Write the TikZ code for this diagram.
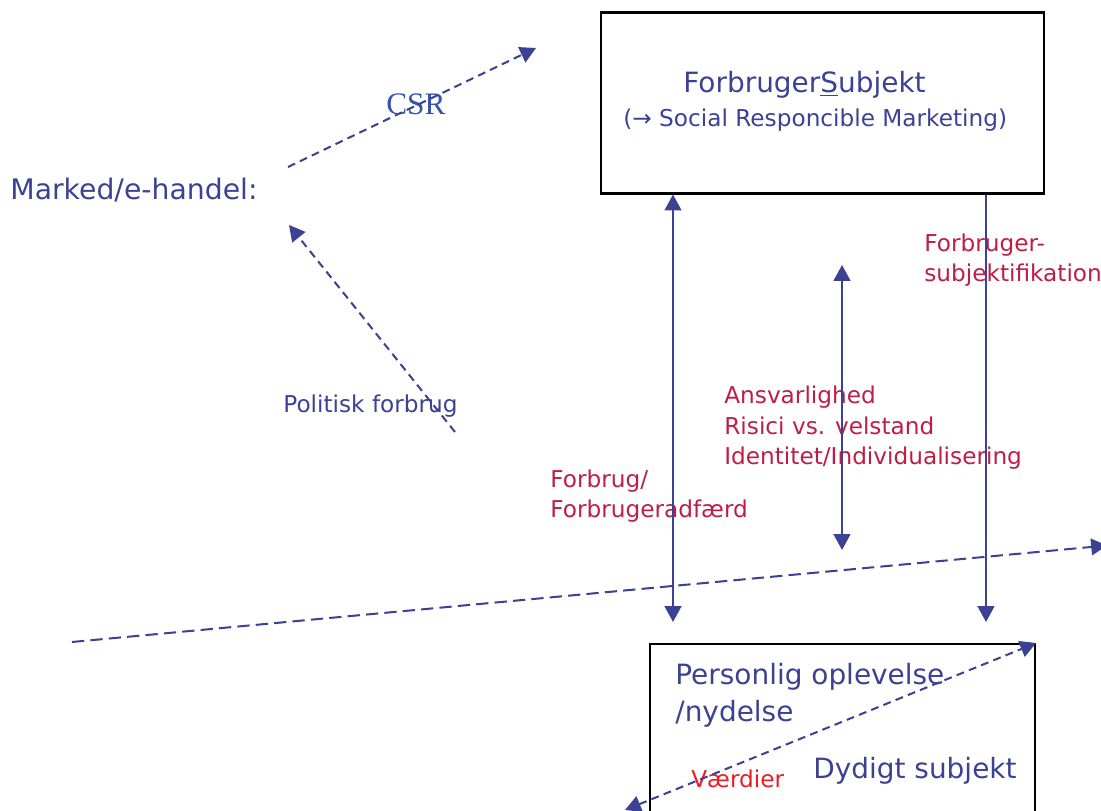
\documentclass[tikz,border=0pt]{standalone}
\usepackage{fontspec}
\setmainfont{DejaVu Sans}
\newfontfamily\csrfont{Liberation Serif}
\usetikzlibrary{arrows.meta}
\usetikzlibrary{positioning}
\definecolor{navy}{RGB}{59,66,148}
\definecolor{csrblue}{RGB}{52,82,168}
\definecolor{crimson}{RGB}{190,30,70}
\definecolor{redtxt}{RGB}{236,28,36}

\begin{document}
\begin{tikzpicture}[
    bigtext/.style={font=\fontsize{15.9}{21.6}\selectfont, text=navy, inner sep=0pt, align=left},
    smalltext/.style={font=\fontsize{13.2}{17.6}\selectfont, inner sep=0pt, align=left},
    lbl/.style={smalltext, text=crimson},
    boxframe/.style={draw=black, line width=1.2pt, rectangle, inner sep=0pt},
    solidarr/.style={navy, line width=1.15pt, -{Triangle[length=9pt,width=9.5pt]}},
    bothway/.style={solidarr, {Triangle[length=9pt,width=9.5pt]}-{Triangle[length=9pt,width=9.5pt]}},
    dasharr/.style={solidarr, dash pattern=on 4.5pt off 3pt},
    dashboth/.style={bothway, dash pattern=on 4.5pt off 3pt},
    longdash/.style={solidarr, dash pattern=on 7pt off 3.5pt}
]
\useasboundingbox (0,0) rectangle (22.02,16.22);
\clip (0,0) rectangle (22.02,16.22);

% Boxes
\node[boxframe, minimum width=8.86cm, minimum height=3.62cm] (subjekt) at (16.45,14.16) {};
\node[boxframe, minimum width=7.7cm, minimum height=4.4cm, anchor=north west] (oplevelse) at (12.98,3.36) {};

% Texts in the boxes
\node[bigtext, anchor=base west] (fs) at (13.66,14.36) {Forbruger\underline{S}ubjekt};
\node[smalltext, text=navy, anchor=base west] (srm) at (12.46,13.68) {(→ Social Responcible Marketing)};
\node[bigtext, anchor=base west] (personlig) at (13.5,1.78) {Personlig oplevelse\\/nydelse};
\node[bigtext, anchor=base west] (dydigt) at (16.26,0.64) {Dydigt subjekt};
\node[smalltext, text=redtxt, anchor=base west] (vaerdier) at (13.82,0.46) {Værdier};

% Left side
\node[bigtext, font=\fontsize{16.1}{20}\selectfont, anchor=base west] (marked) at (0.2,12.22) {Marked/e-handel:};
\node[text=csrblue, font=\csrfont\fontsize{17.8}{20}\selectfont, inner sep=0pt, anchor=base west] (csr) at (7.72,13.92) {CSR};
\node[smalltext, text=navy, anchor=base west] (politisk) at (5.66,7.96) {Politisk forbrug};

% Labels
\node[lbl, anchor=base west] (subjektif) at (18.48,10.58) {Forbruger-\\subjektifikation};
\node[lbl, anchor=base west] (ansvar) at (14.48,6.92) {Ansvarlighed\\Risici vs. velstand\\Identitet/Individualisering};
\node[lbl, anchor=base west] (forbrug) at (11.0,5.86) {Forbrug/\\Forbrugeradfærd};

% Free ends
\coordinate (csrA) at (5.76,12.88);
\coordinate (csrB) at (10.72,15.26);
\coordinate (polA) at (9.10,7.58);
\coordinate (polB) at (5.78,11.72);
\coordinate (fbBot) at (13.46,3.78);
\coordinate (ansTop) at (16.84,10.92);
\coordinate (ansBot) at (16.84,5.22);
\coordinate (sbjBot) at (19.72,3.78);
\coordinate (lineA) at (1.44,3.38);
\coordinate (lineB) at (22.14,5.31);
\coordinate (vA) at (12.5,0.02);

% Arrows
\draw[dasharr] (csrA) -- (csrB);
\draw[dasharr] (polA) -- (polB);
\draw[bothway] (fbBot) -- (fbBot |- subjekt.south);
\draw[bothway] (ansBot) -- (ansTop);
\draw[solidarr] (sbjBot |- subjekt.south) -- (sbjBot);
\draw[longdash] (lineA) -- (lineB);
\draw[dashboth] (vA) -- (oplevelse.north east);
\end{tikzpicture}
\end{document}
